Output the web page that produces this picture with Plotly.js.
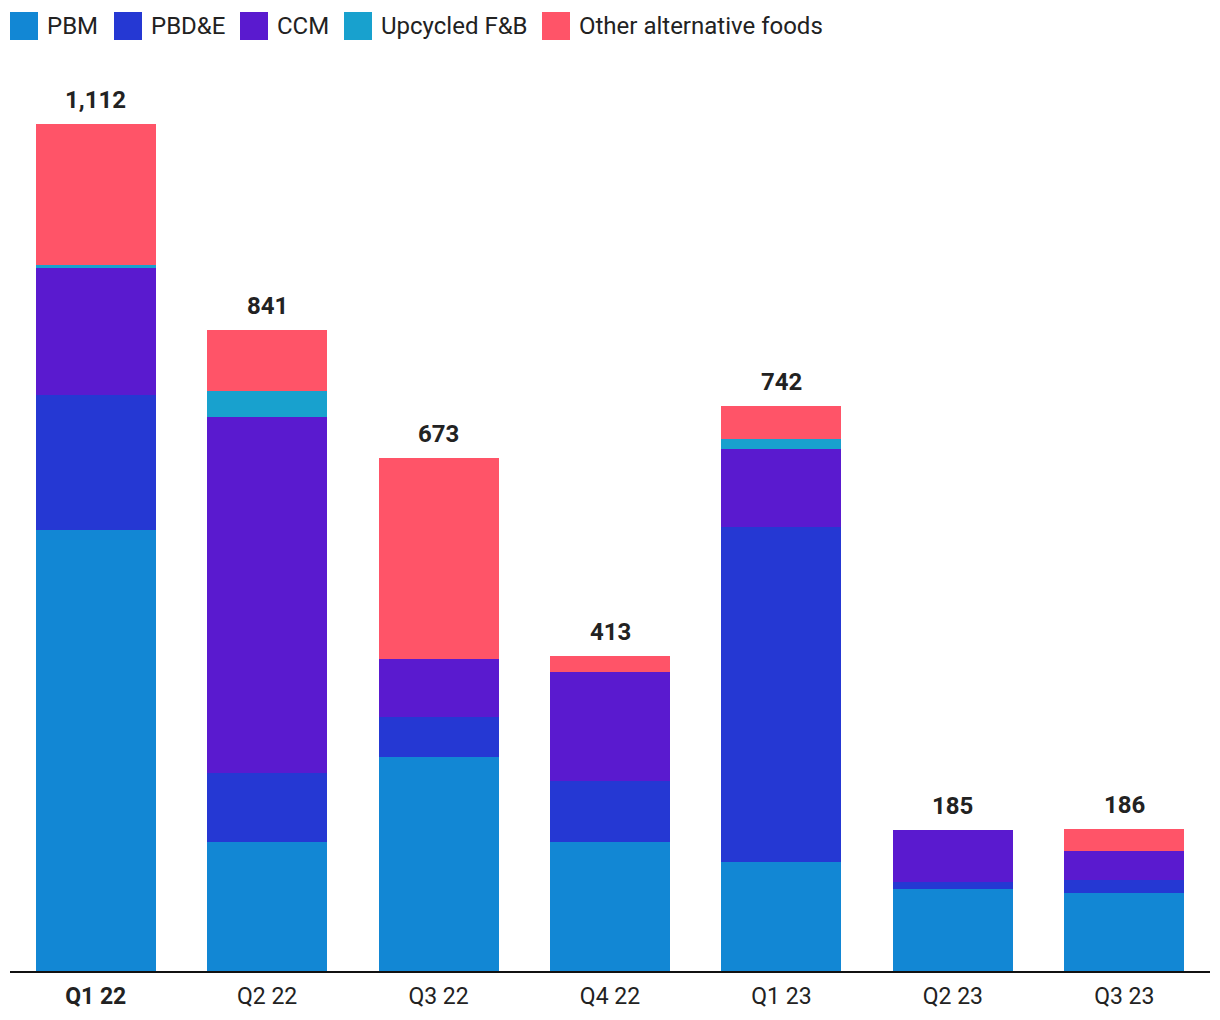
<!DOCTYPE html>
<html>
<head>
<meta charset="utf-8">
<script src="https://cdn.plot.ly/plotly-3.0.1.min.js"></script>
<style>html,body{margin:0;padding:0;background:#fff;}#chart{width:1220px;height:1020px;}</style>
</head>
<body>
<div id="chart"></div>
<script>
const quarters = ["Q1 22","Q2 22","Q3 22","Q4 22","Q1 23","Q2 23","Q3 23"];
const tickLabels = ["<b>Q1 22</b>","Q2 22","Q3 22","Q4 22","Q1 23","Q2 23","Q3 23"];
const pbm      = [579, 169, 281, 169, 143, 108, 102];
const pbde     = [177,  91,  53,  80, 440,   9,  18];
const ccm      = [167, 467,  75, 144, 102,  68,  38];
const upcycled = [  4,  34,   0,   0,  13,   0,   0];
const other    = [185,  80, 264,  20,  44,   0,  28];
const totals   = [1112, 841, 673, 413, 742, 185, 186];

const seriesNames = ["PBM","PBD&E","CCM","Upcycled F&B","Other alternative foods"];
const seriesData = [pbm, pbde, ccm, upcycled, other];
const colors = ["#1287D4","#2538D3","#5A1ACF","#18A1CE","#FF5468"];

const W = 1220, H = 1020;
const M = {l:10, r:10, t:57, b:49};
const plotW = W - M.l - M.r, plotH = H - M.t - M.b;
const px2x = p => (p - M.l) / plotW;
const px2y = p => (H - M.b - p) / plotH;

const traces = seriesData.map((d,i)=>({
  type:'bar', x:quarters, y:d, name:seriesNames[i],
  marker:{color:colors[i], line:{width:0}},
  hoverinfo:'x+y+name', showlegend:false
}));

const annotations = quarters.map((q,i)=>({
  x:q, y:totals[i], xref:'x', yref:'y', yanchor:'bottom',
  text:'<b>'+totals[i].toLocaleString('en-US')+'</b>', showarrow:false, yshift:8,
  font:{family:'Roboto', size:24, color:'#222222'}
}));

// custom legend (large square swatches)
const legendX = [10, 114, 240, 344, 542];
const shapes = [];
seriesNames.forEach((n,i)=>{
  shapes.push({type:'rect', xref:'paper', yref:'paper',
    x0:px2x(legendX[i]), x1:px2x(legendX[i]+28), y0:px2y(40), y1:px2y(12),
    fillcolor:colors[i], line:{width:0}});
  annotations.push({xref:'paper', yref:'paper', x:px2x(legendX[i]+35), y:px2y(26),
    xanchor:'left', yanchor:'middle', text:n, showarrow:false,
    font:{family:'Roboto', size:24, color:'#222222'}});
});

const layout = {
  width:W, height:H,
  barmode:'stack', bargap:0.3,
  margin:M,
  paper_bgcolor:'#ffffff', plot_bgcolor:'#ffffff',
  font:{family:'Roboto', size:24, color:'#222222'},
  showlegend:false,
  xaxis:{tickvals:quarters, ticktext:tickLabels, showline:true, linecolor:'#111111', linewidth:2,
         showgrid:false, zeroline:false, ticks:'', ticklabelstandoff:3,
         tickfont:{family:'Roboto', size:23, color:'#222222'}},
  yaxis:{range:[0,1200], visible:false, showgrid:false, zeroline:false},
  shapes:shapes,
  annotations:annotations
};

Plotly.newPlot('chart', traces, layout, {displayModeBar:false, staticPlot:true});
</script>
</body>
</html>
